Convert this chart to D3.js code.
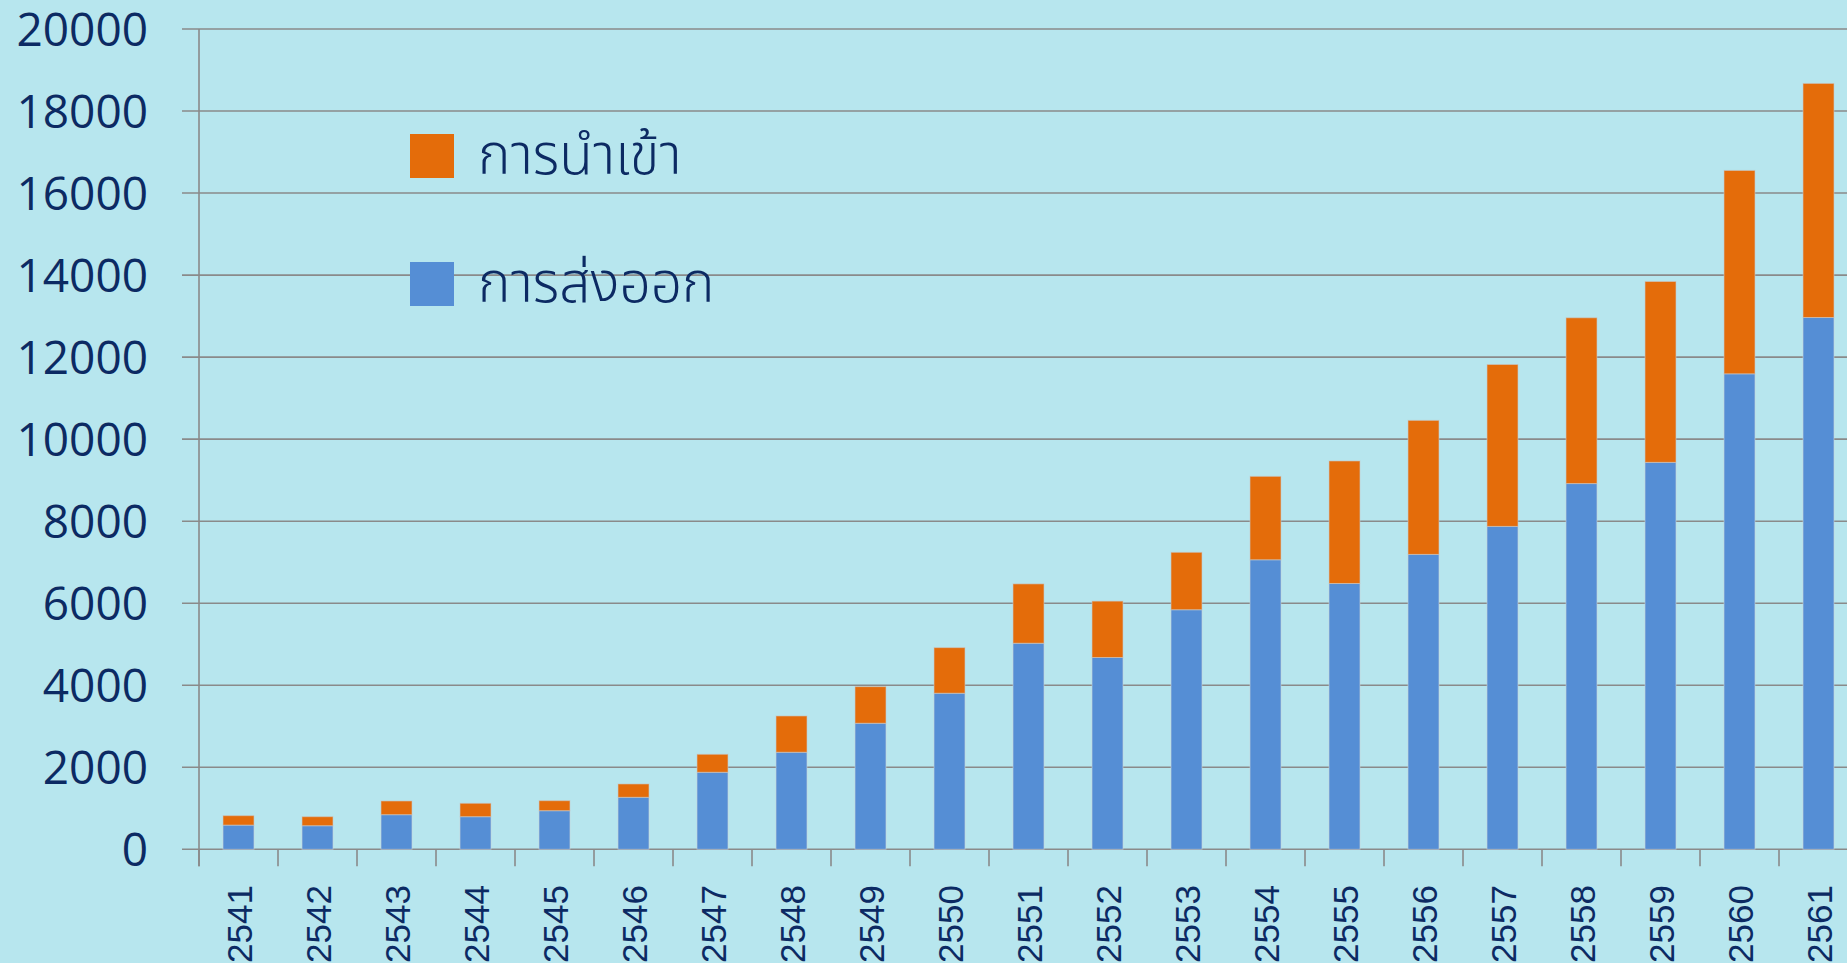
<!DOCTYPE html>
<html>
<head>
<meta charset="utf-8">
<script src="https://cdn.jsdelivr.net/npm/d3@7"></script>
<style>
  body { margin: 0; background: #b7e6ee; overflow: hidden; }
</style>
</head>
<body>
<div id="chart"></div>
<script>
// chart data
var years = ["2541", "2542", "2543", "2544", "2545", "2546", "2547", "2548", "2549", "2550",
  "2551", "2552", "2553", "2554", "2555", "2556", "2557", "2558", "2559", "2560", "2561"];
var exportVals = [590, 575, 844, 795, 941, 1268, 1878, 2366, 3073, 3805,
  5024, 4676, 5841, 7059, 6481, 7190, 7873, 8917, 9434, 11593, 12966];
var importVals = [230, 220, 334, 327, 244, 325, 439, 885, 893, 1112,
  1447, 1375, 1400, 2034, 2987, 3268, 3947, 4042, 4410, 4958, 5707];
var yTicks = [0, 2000, 4000, 6000, 8000, 10000, 12000, 14000, 16000, 18000, 20000];
var seriesNames = ["การนำเข้า", "การส่งออก"];

var svgWidth = 1847;
var svgHeight = 963;

var textColor = "#0c2a63";
var gridColor = "#8a8a8a";
var colExport = "#558ed5";
var colImport = "#e46c0a";

var svg = d3.select("#chart").append("svg")
  .attr("width", svgWidth)
  .attr("height", svgHeight);

svg.append("rect")
  .attr("width", svgWidth)
  .attr("height", svgHeight)
  .attr("fill", "#b7e6ee");

// plot area (runs off the right edge like the original)
var plotLeft = 199, plotTop = 29, plotBottom = 849.3;
var step = 79;
var plotRight = plotLeft + step * years.length;

var xScale = d3.scaleBand()
  .domain(years)
  .range([plotLeft, plotRight])
  .paddingInner(0.608)
  .paddingOuter(0.304);

var yScale = d3.scaleLinear()
  .domain([0, 20000])
  .range([plotBottom, plotTop]);

// gridlines
svg.append("g").selectAll("line")
  .data(yTicks)
  .enter()
  .append("line")
  .attr("x1", plotLeft - 17)
  .attr("x2", svgWidth)
  .attr("y1", d => yScale(d))
  .attr("y2", d => yScale(d))
  .attr("stroke", gridColor)
  .attr("stroke-width", 1.6);

// y tick labels
var leftAxis = d3.axisLeft(yScale)
  .tickValues(yTicks)
  .tickFormat(d3.format("d"))
  .tickSize(0)
  .tickPadding(0);
var yAxisG = svg.append("g")
  .attr("transform", `translate(148, 0)`)
  .call(leftAxis);
yAxisG.select(".domain").remove();
yAxisG.selectAll("text")
  .attr("dy", null)
  .attr("y", 16)
  .attr("fill", textColor)
  .attr("font-family", "'Open Sans', sans-serif")
  .attr("font-weight", 500)
  .attr("font-size", "46px");

// y axis line
svg.append("line")
  .attr("x1", plotLeft).attr("x2", plotLeft)
  .attr("y1", plotTop).attr("y2", plotBottom + 17)
  .attr("stroke", gridColor)
  .attr("stroke-width", 1.6);

// x ticks between categories
var edges = d3.range(years.length + 1).map(i => plotLeft + i * step);
svg.append("g").selectAll("line")
  .data(edges)
  .enter()
  .append("line")
  .attr("x1", d => d).attr("x2", d => d)
  .attr("y1", plotBottom).attr("y2", plotBottom + 17)
  .attr("stroke", gridColor)
  .attr("stroke-width", 1.6);

// stacked bars
var rows = years.map((y, i) => ({ year: y, exp: exportVals[i], imp: importVals[i] }));

svg.append("g").selectAll("rect")
  .data(rows)
  .enter()
  .append("rect")
  .attr("x", d => xScale(d.year))
  .attr("width", xScale.bandwidth())
  .attr("y", d => yScale(d.exp))
  .attr("height", d => yScale(0) - yScale(d.exp))
  .attr("fill", colExport)
  .attr("stroke", "rgba(200,210,215,0.6)")
  .attr("stroke-width", 1);

svg.append("g").selectAll("rect")
  .data(rows)
  .enter()
  .append("rect")
  .attr("x", d => xScale(d.year))
  .attr("width", xScale.bandwidth())
  .attr("y", d => yScale(d.exp + d.imp))
  .attr("height", d => yScale(d.exp) - yScale(d.exp + d.imp))
  .attr("fill", colImport)
  .attr("stroke", "rgba(200,200,200,0.6)")
  .attr("stroke-width", 1);

// x labels, rotated
svg.append("g").selectAll("text")
  .data(years)
  .enter()
  .append("text")
  .attr("transform", d => `translate(${xScale(d) + xScale.bandwidth() / 2 + 13}, 885) rotate(-90)`)
  .attr("text-anchor", "end")
  .attr("fill", textColor)
  .attr("font-family", "'Liberation Sans', Arial, sans-serif")
  .attr("font-size", "35px")
  .text(d => d);

// legend
var legend = [
  { name: seriesNames[0], color: colImport, y: 134 },
  { name: seriesNames[1], color: colExport, y: 262 }
];
var lg = svg.append("g").selectAll("g")
  .data(legend)
  .enter()
  .append("g");

lg.append("rect")
  .attr("x", 410)
  .attr("y", d => d.y)
  .attr("width", 44)
  .attr("height", 44)
  .attr("fill", d => d.color);

lg.append("text")
  .attr("x", 478)
  .attr("y", d => d.y + 40)
  .attr("fill", textColor)
  .attr("font-family", "'Noto Sans Thai', 'Leelawadee UI', 'Noto Sans', sans-serif")
  .attr("font-weight", 300)
  .attr("font-size", "55px")
  .text(d => d.name);
</script>
</body>
</html>
